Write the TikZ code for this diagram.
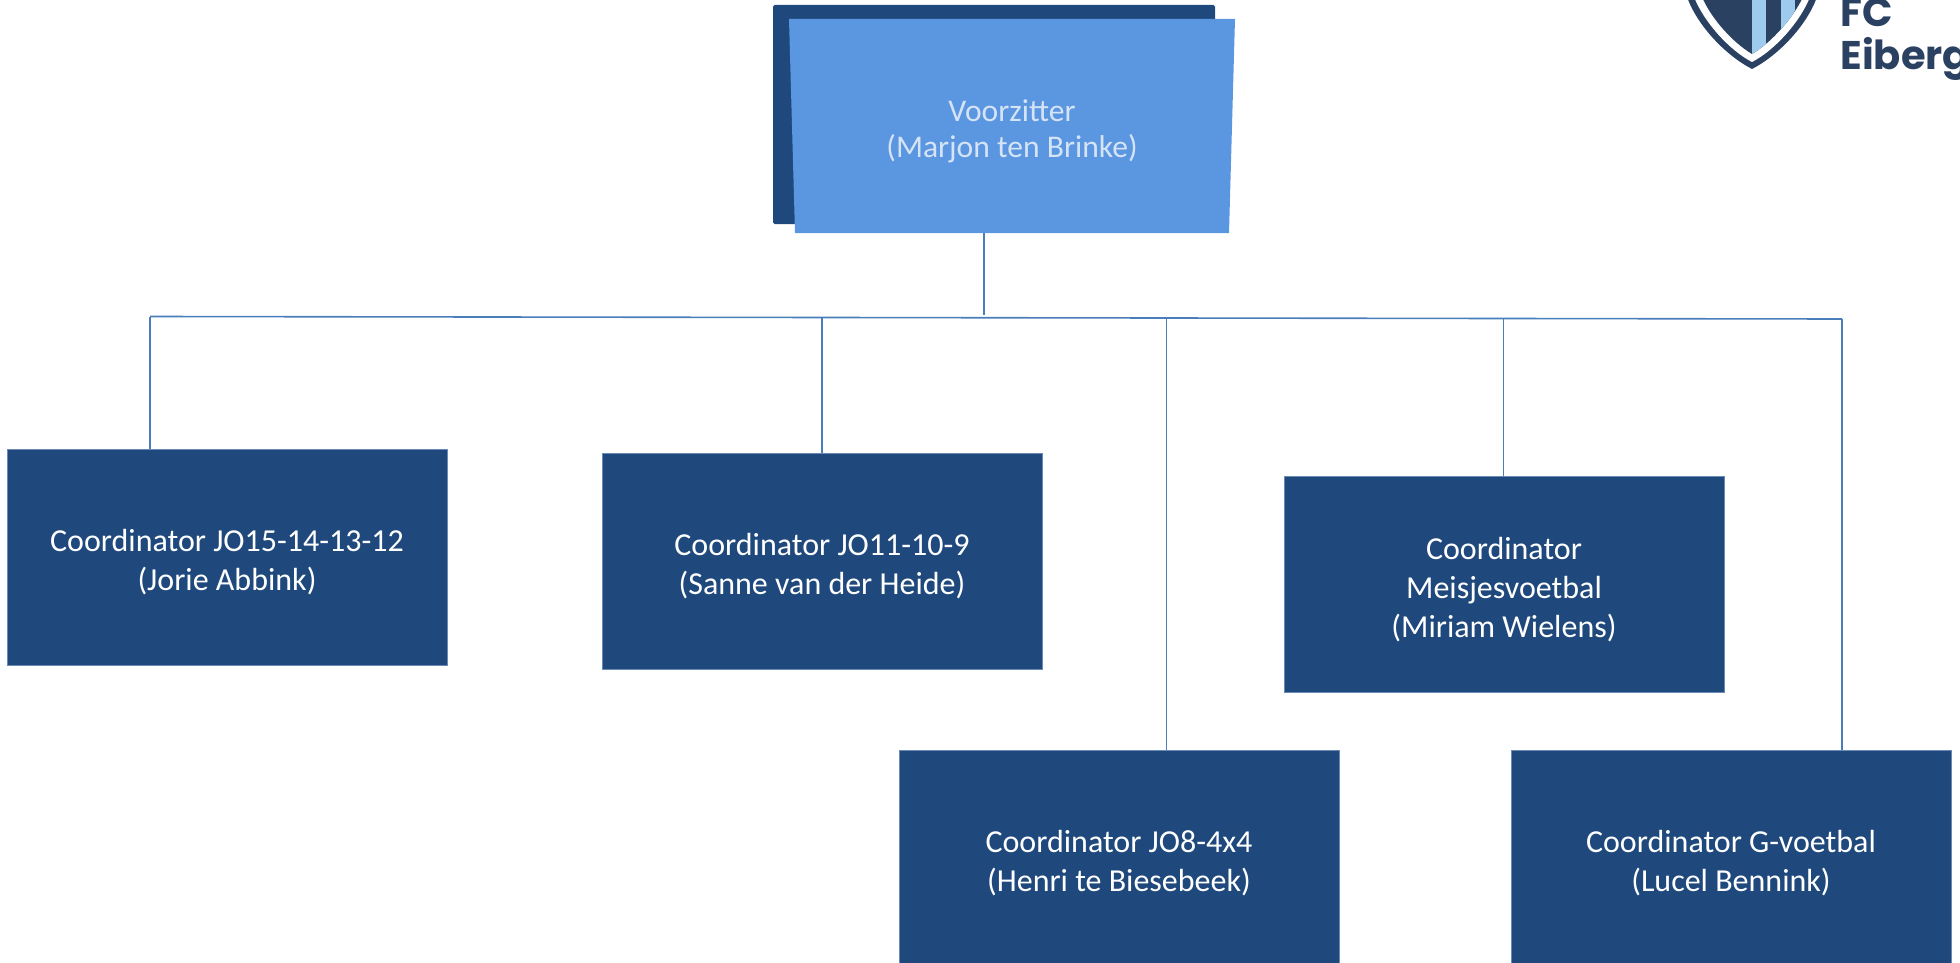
\documentclass[tikz,border=0pt]{standalone}
\usepackage{fontspec}
\setmainfont{Carlito}
\newfontfamily\logofont{Poppins}
\definecolor{boxdark}{HTML}{1F497D}
\definecolor{boxedge}{HTML}{6A8BB5}
\definecolor{boxlight}{HTML}{5B96E0}
\definecolor{chairtext}{HTML}{D5E3F6}
\definecolor{linkblue}{HTML}{4A7EBB}
\definecolor{logodark}{HTML}{2B4162}
\definecolor{logolight}{HTML}{9CCBEE}
\newcommand\lowerstrut{\rule{0pt}{16pt}}
\tikzset{
  x=0.5pt,y=-0.5pt,
  coordbox/.style={draw=boxedge,line width=0.5pt,fill=boxdark,text=white,align=center,inner sep=0pt,
    minimum width=220pt,minimum height=108pt,font=\fontsize{16}{19.4}\selectfont},
  link/.style={draw=linkblue,line width=0.8pt},
  logotext/.style={text=logodark,font=\logofont\bfseries\fontsize{20}{20}\selectfont,anchor=base west,inner sep=0pt},
}
\begin{document}
\begin{tikzpicture}
\useasboundingbox (0,0) rectangle (1960,963);
\clip (0,0) rectangle (1960,963);
% chair
\fill[boxdark,rounded corners=0.8pt] (773,5) rectangle (1215,224);
\fill[boxlight] (789,19) -- (1235,19) -- (1229,233) -- (795,233) -- cycle;
\node[text=chairtext,align=center,inner sep=0pt,font=\fontsize{15.8}{18}\selectfont] (chair) at (1012,131.5) {Voorzitter\\(Marjon ten Brinke)};
% boxes
\node[coordbox] (b1) at (227,557.5) {\lowerstrut Coordinator JO15-14-13-12\\(Jorie Abbink)};
\node[coordbox] (b2) at (822,561.5) {\lowerstrut Coordinator JO11-10-9\\(Sanne van der Heide)};
\node[coordbox] (b3) at (1504,584.5) {\lowerstrut Coordinator\\Meisjesvoetbal\\(Miriam Wielens)};
\node[coordbox] (b4) at (1119,858) {\lowerstrut Coordinator JO8-4x4\\(Henri te Biesebeek)};
\node[coordbox] (b5) at (1731,858) {\lowerstrut Coordinator G-voetbal\\(Lucel Bennink)};
% connectors
\coordinate (drop) at (984,233);
\coordinate (busdrop) at (984,315);
\coordinate (busl) at (150,316.5);
\coordinate (busr) at (1842,319);
\coordinate (j1) at (150,316.5);
\coordinate (j2) at (822,317);
\coordinate (j4) at (1166.5,318);
\coordinate (j3) at (1503.5,318.5);
\coordinate (j5) at (1842,318.5);
\draw[link] (drop) -- (busdrop);
\draw[link] (busl) -- (busr);
\draw[link] (j1) -- (j1 |- b1.north);
\draw[link] (j2) -- (j2 |- b2.north);
\draw[link] (j3) -- (j3 |- b3.north);
\draw[link] (j4) -- (j4 |- b4.north);
\draw[link] (j5) -- (j5 |- b5.north);
% logo
\fill[logodark] (1687,-3) .. controls (1697,25) and (1725,55) .. (1752,69) .. controls (1779,55) and (1807,25) .. (1817,-3) -- cycle;
\fill[white] (1694,-3) .. controls (1704,22) and (1729,50) .. (1752,62) .. controls (1775,50) and (1800,22) .. (1810,-3) -- cycle;
\begin{scope}
\clip (1702,-3) .. controls (1711,18) and (1732,42) .. (1752,54) .. controls (1772,42) and (1793,18) .. (1803,-3) -- cycle;
\fill[logodark] (1700,-5) rectangle (1806,70);
\fill[logolight] (1752,-5) rectangle (1766,70);
\fill[logolight] (1781,-5) rectangle (1795,70);
\end{scope}
\node[logotext] (fc) at (1840,27) {FC};
\node[logotext] (eib) at (1840,70) {Eiberg};
\end{tikzpicture}
\end{document}
